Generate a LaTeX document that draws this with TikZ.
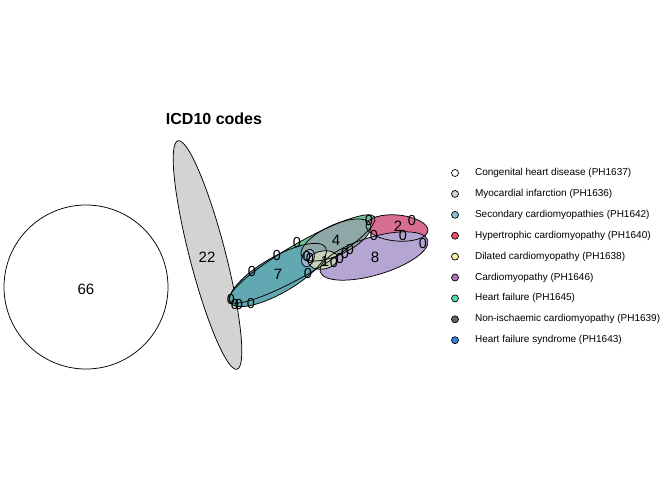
\documentclass[tikz,border=0pt]{standalone}
\usepackage{fontspec}
\setmainfont{Liberation Sans}
\usepackage{tikz}
\usetikzlibrary{positioning}
\definecolor{chdwhite}{RGB}{255,255,255}
\definecolor{migrey}{RGB}{211,211,211}
\definecolor{secblue}{RGB}{140,190,215}
\definecolor{hypred}{RGB}{225,85,100}
\definecolor{dilyellow}{RGB}{250,240,160}
\definecolor{cmpurple}{RGB}{175,110,190}
\definecolor{hfgreen}{RGB}{80,220,170}
\definecolor{nicgrey}{RGB}{100,100,100}
\definecolor{hfsblue}{RGB}{60,130,220}
% blended region colours
\definecolor{rgngreen}{RGB}{110,195,150}
\definecolor{rgnteal}{RGB}{98,168,178}
\definecolor{rgnfour}{RGB}{142,168,168}
\definecolor{rgnpink}{RGB}{215,110,145}
\definecolor{rgnpurple}{RGB}{180,165,210}
\definecolor{rgnblue}{RGB}{150,180,205}
\definecolor{rgnpale}{RGB}{200,210,185}

\begin{document}
\begin{tikzpicture}[x=1pt,y=-1pt,
    setline/.style={draw=black,line width=0.75pt},
    countlabel/.style={font=\fontsize{15}{18}\selectfont,inner sep=0pt},
    zerolabel/.style={font=\fontsize{14.5}{17}\selectfont,inner sep=0pt},
    legdot/.style={circle,draw=black,line width=0.7pt,minimum size=7pt,inner sep=0pt},
    legtext/.style={anchor=west,font=\fontsize{10}{12}\selectfont,inner sep=0pt}]

\useasboundingbox (0,0) rectangle (672,480);

% single sets
\draw[setline,fill=chdwhite] (86,287) circle [radius=82];
\draw[setline,fill=migrey,shift={(207.5,255)},rotate=-75.5] (0,0) ellipse [x radius=118,y radius=18];

% overlapping cluster: fills first, outlines after
\foreach \cx/\cy/\ang/\ra/\rb/\col in {302/259/30/84/16/rgngreen, 397/228/-5/31/13/rgnpink,
    374/256/16.5/56/19/rgnpurple, 278/275/30/55/18/rgnteal, 336/240/25/38/15/rgnfour,
    308/258/70/9/6/rgnblue, 323/260/10/15/9/rgnpale}
    \fill[\col,shift={(\cx,\cy)},rotate=\ang] (0,0) ellipse [x radius=\ra,y radius=\rb];
\foreach \cx/\cy/\ang/\ra/\rb in {302/259/30/84/16, 397/228/-5/31/13,
    374/256/16.5/56/19, 278/275/30/55/18, 336/240/25/38/15,
    308/258/70/9/6, 323/260/10/15/9}
    \draw[setline,shift={(\cx,\cy)},rotate=\ang] (0,0) ellipse [x radius=\ra,y radius=\rb];

% counts
\node[countlabel] (n66) at (86,289) {66};
\node[countlabel] (n22) at (207,257) {22};
\node[countlabel] (n7) at (278,274) {7};
\node[countlabel] (n4) at (336,240) {4};
\node[countlabel] (n1) at (325,261) {1};
\node[countlabel] (n8) at (375,257) {8};
\node[countlabel] (n2) at (398,226) {2};
\foreach \zx/\zy [count=\i] in {231/300, 235/305, 239/305, 251/304, 252/272, 277/256,
    297/243, 307/257, 310/259, 308/274, 334/263, 340/259, 345/254, 350/250,
    369/221, 374/236, 412/221, 403/236, 423/244}
    \node[zerolabel] (zero\i) at (\zx,\zy) {0};

% title
\node[font=\fontsize{16}{19}\selectfont\bfseries] (title) at (214,119) {ICD10 codes};

% legend
\foreach \col/\txt [count=\i] in {chdwhite/Congenital heart disease (PH1637),
    migrey/Myocardial infarction (PH1636),
    secblue/Secondary cardiomyopathies (PH1642),
    hypred/Hypertrophic cardiomyopathy (PH1640),
    dilyellow/Dilated cardiomyopathy (PH1638),
    cmpurple/Cardiomyopathy (PH1646),
    hfgreen/Heart failure (PH1645),
    nicgrey/Non-ischaemic cardiomyopathy (PH1639),
    hfsblue/Heart failure syndrome (PH1643)} {
    \node[legdot,fill=\col] (dot\i) at (455,{173+20.9*(\i-1)}) {};
    \node[legtext,right=16pt of dot\i] (leg\i) {\txt};
}
\end{tikzpicture}
\end{document}
